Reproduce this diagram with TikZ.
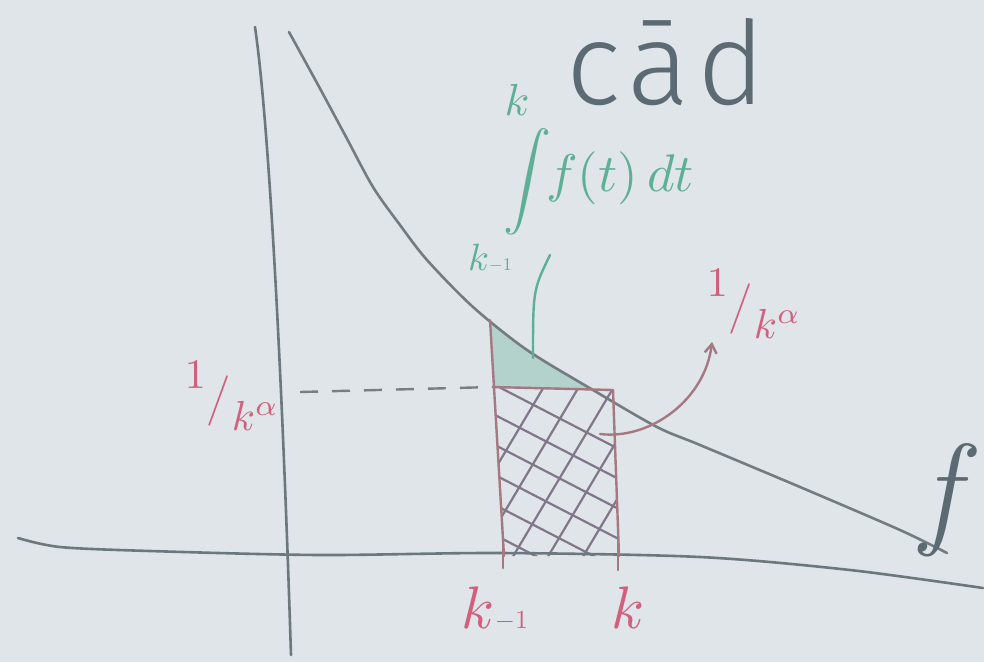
\documentclass[tikz,border=0pt]{standalone}
\usepackage{fontspec}
\newfontfamily\hand{Fira Sans Light}[LetterSpace=7]
\usetikzlibrary{arrows.meta}
\definecolor{paper}{RGB}{223,229,232}
\definecolor{axisc}{RGB}{108,120,127}
\definecolor{curvec}{RGB}{114,124,130}
\definecolor{rectc}{RGB}{165,120,130}
\definecolor{hatchc}{RGB}{130,118,138}
\definecolor{greenc}{RGB}{95,175,150}
\definecolor{redc}{RGB}{210,95,125}
\definecolor{dashc}{RGB}{120,126,132}
\definecolor{inkc}{RGB}{92,106,116}
\newcommand\invka{\raisebox{0.55em}{$1$}\kern0.02em$\big/$\kern0.02em\raisebox{-0.45em}{$k^{\alpha}$}}
\tikzset{
  axisline/.style={draw=axisc, line width=2.6pt, line cap=round},
  fcurve/.style={draw=curvec, line width=2.6pt, line cap=round},
  redline/.style={draw=rectc, line width=2.4pt, line cap=round},
  hatchline/.style={draw=hatchc, line width=2.2pt, line cap=round},
  dashline/.style={draw=dashc, line width=2.4pt, dash pattern=on 18pt off 14pt},
  greenlbl/.style={text=greenc, inner sep=0pt},
  redlbl/.style={text=redc, inner sep=0pt},
  inklbl/.style={text=inkc, inner sep=0pt},
}
\begin{document}
\begin{tikzpicture}[x=1pt,y=-1pt]
\fill[paper] (0,0) rectangle (984,662);
\useasboundingbox (0,0) rectangle (984,662);

% coordinates
\coordinate (ytop) at (255,27);
\coordinate (ybot) at (291,655);
\coordinate (rtl) at (490,320);
\coordinate (rtlb) at (493,387);
\coordinate (rtr) at (613,390);
\coordinate (rbl) at (504,556);
\coordinate (rbr) at (619,556);
\coordinate (dstart) at (300,392);

% green region between curve and top of rectangle
\fill[greenc, opacity=0.35] (490,320) -- (527,350) -- (560,370) -- (592,389) -- (494,388) -- cycle;

% hatching
\begin{scope}
  \clip (rtlb) -- (rtr) -- (rbr) -- (rbl) -- cycle;
  \foreach \xa in {545,580,615,650,685,720}
    \draw[hatchline] (\xa,385) -- (\xa-110,570);
  \foreach \ya in {385,415,445,475,505,535}
    \draw[hatchline] (495,\ya) -- (640,\ya+75);
\end{scope}

% axes
\draw[axisline] (ytop) .. controls (270,130) and (283,400) .. (ybot);
\draw[axisline] plot[smooth] coordinates {(18,538) (60,547) (150,551) (320,555) (500,553) (700,557) (850,570) (983,588)};

% curve f
\draw[fcurve] plot[smooth] coordinates {(289,32) (317,83) (345,135) (373,187) (400,225) (427,260) (473,307) (527,350) (593,390) (657,427) (700,445) (800,487) (900,530) (947,553)};

% dashed line
\draw[dashline] (dstart) -- (rtlb);

% rectangle
\draw[redline] (rtlb) -- (rtr);
\draw[redline] (rtl) -- (rbl);
\draw[redline] (rtr) -- (rbr);
% ticks
\draw[redline] (503,543) -- (503,568);
\draw[redline] (618,538) -- (618,570);

% labels
\node[inklbl, anchor=base west] (cad) at (566,104) {\hand\fontsize{116}{116}\selectfont cād};
\node[inklbl] (flbl) at (940,500) {\fontsize{125}{125}\selectfont\itshape f};

\node[greenlbl] (intsign) at (527,182) {\scalebox{4.8}{$\displaystyle\int$}};
\node[greenlbl] (intup) at (517,100) {\scalebox{4.5}{$k$}};
\node[greenlbl, anchor=base] (intlow) at (490,270) {\scalebox{3.8}{$k$}\scalebox{1.8}{$-1$}};
\node[greenlbl] (integrand) at (620,178) {\scalebox{5.3}{$f(t)\,dt$}};

\node[redlbl] (lblL) at (232,396) {\scalebox{4.2}{\invka}};
\node[redlbl] (lblR) at (754,304) {\scalebox{4.2}{\invka}};
\node[redlbl, anchor=base] (lblk1) at (495,628) {\scalebox{6}{$k$}\scalebox{2.6}{$-1$}};
\node[redlbl] (lblk) at (628,608) {\scalebox{6}{$k$}};

% connectors
\coordinate (gend) at (533,358);
\draw[draw=greenc, line width=2.4pt, line cap=round] (550,255) .. controls (533,290) .. (gend);
\coordinate (astart) at (600,434);
\draw[draw=rectc, line width=2.4pt, line cap=round, -{Straight Barb[length=9pt, width=12pt]}] (astart) .. controls (650,440) and (705,400) .. (712,342);
\end{tikzpicture}
\end{document}
